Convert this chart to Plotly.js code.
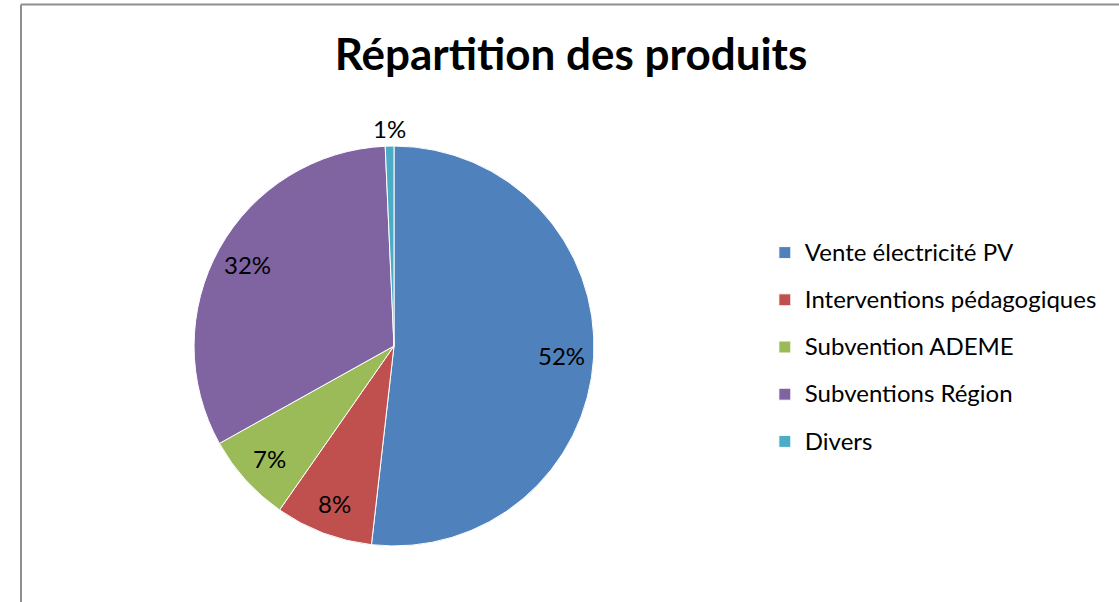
<!DOCTYPE html>
<html>
<head>
<meta charset="utf-8">
<script src="https://cdn.plot.ly/plotly-3.0.1.min.js"></script>
<style>
html,body{margin:0;padding:0;background:#fff;}
#chart{width:1119px;height:602px;}
</style>
</head>
<body>
<div id="chart"></div>
<script>
const categories = ["Vente électricité PV", "Interventions pédagogiques", "Subvention ADEME", "Subventions Région", "Divers"];
const shares = [51.8, 7.9, 7.2, 32.4, 0.7];
const colors = ["#4F81BD", "#C0504D", "#9BBB59", "#8064A2", "#4BACC6"];
const labelOutside = [false, false, false, false, true];
const chartTitle = "Répartition des produits";

const FONT = "Lato, 'Open Sans', sans-serif";
const W = 1119, H = 602;
const pieDomain = {x: [0.1734, 0.5308], y: [0.093, 0.7575]};

// Percent labels placed at each slice's mid-angle, derived from the data
const total = shares.reduce((a, b) => a + b, 0);
const cx = (pieDomain.x[0] + pieDomain.x[1]) / 2;
const cy = (pieDomain.y[0] + pieDomain.y[1]) / 2;
const R = Math.min((pieDomain.x[1] - pieDomain.x[0]) * W, (pieDomain.y[1] - pieDomain.y[0]) * H) / 2;
const INSIDE_FRAC = 0.84, OUTSIDE_FRAC = 1.09;
let cum = 0;
const annotations = shares.map((v, i) => {
  const mid = (cum + v / 2) / total * 2 * Math.PI;
  cum += v;
  const r = R * (labelOutside[i] ? OUTSIDE_FRAC : INSIDE_FRAC);
  return {
    xref: "paper", yref: "paper",
    x: cx + r * Math.sin(mid) / W,
    y: cy + r * Math.cos(mid) / H,
    xanchor: "center", yanchor: "middle",
    text: Math.round(v / total * 100) + "%",
    showarrow: false,
    font: {family: FONT, size: 24, color: "#000000"}
  };
});

const trace = {
  type: "pie",
  labels: categories.map(c => '<span style="font-size:24px;baseline-shift:5px">' + c + '</span>'),
  values: shares,
  sort: false,
  direction: "clockwise",
  rotation: 0,
  marker: {colors: colors, line: {color: "#ffffff", width: 1}},
  textinfo: "none",
  automargin: false,
  hoverinfo: "label+percent",
  domain: pieDomain
};

const layout = {
  width: W,
  height: H,
  margin: {l: 0, r: 0, t: 0, b: 0},
  paper_bgcolor: "#ffffff",
  plot_bgcolor: "#ffffff",
  font: {family: FONT, color: "#000000"},
  title: {
    text: "<b>" + chartTitle + "</b>",
    font: {family: FONT, size: 44, color: "#000000"},
    x: 571 / W, xanchor: "center", xref: "paper",
    y: 1 - 55 / H, yanchor: "middle", yref: "container"
  },
  showlegend: true,
  legend: {
    x: 0.6835, xanchor: "left",
    y: 1 - 347 / H, yanchor: "middle",
    font: {family: FONT, size: 34, color: "#000000"},
    bgcolor: "rgba(0,0,0,0)",
    traceorder: "normal"
  },
  annotations: annotations,
  shapes: [
    {type: "line", xref: "paper", yref: "paper", x0: 21 / W, x1: 21 / W, y0: 0, y1: 1 - 4.5 / H, line: {color: "#8f8f8f", width: 2}},
    {type: "line", xref: "paper", yref: "paper", x0: 21 / W, x1: 1, y0: 1 - 4.5 / H, y1: 1 - 4.5 / H, line: {color: "#8f8f8f", width: 2}}
  ]
};

Plotly.newPlot("chart", [trace], layout, {displayModeBar: false, staticPlot: true});
</script>
</body>
</html>
